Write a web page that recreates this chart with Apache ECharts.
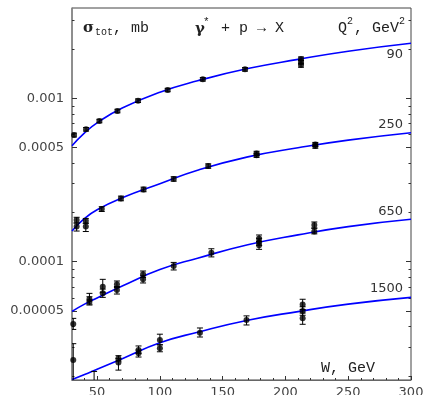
<!DOCTYPE html>
<html>
<head>
<meta charset="utf-8">
<script src="https://cdn.jsdelivr.net/npm/echarts@6/dist/echarts.min.js"></script>
<style>
html, body { margin: 0; padding: 0; background: #fff; }
#main { width: 423px; height: 395px; }
</style>
</head>
<body>
<div id="main"></div>
<script>
// fitted curves at these W values
var curveW  = [30, 40, 50, 70, 100, 130, 170, 210, 250, 300];
var fit90   = [5.13e-4, 6.15e-4, 7.08e-4, 8.72e-4, 1.09e-3, 1.28e-3, 1.52e-3, 1.73e-3, 1.94e-3, 2.17e-3];
var fit250  = [1.54e-4, 1.84e-4, 2.08e-4, 2.46e-4, 3.0e-4, 3.63e-4, 4.38e-4, 4.98e-4, 5.55e-4, 6.16e-4];
var fit650  = [4.97e-5, 5.5e-5, 6.0e-5, 7.1e-5, 8.95e-5, 1.05e-4, 1.27e-4, 1.46e-4, 1.64e-4, 1.817e-4];
var fit1500 = [1.9e-5, 2.04e-5, 2.2e-5, 2.55e-5, 3.19e-5, 3.7e-5, 4.38e-5, 4.95e-5, 5.5e-5, 6.05e-5];

// measured points: [W, sigma, low, high]
var pts90 = [
    [31.6, 5.96e-4, 5.8e-4, 6.12e-4],
    [41.2, 6.46e-4, 6.3e-4, 6.62e-4],
    [51.8, 7.26e-4, 7.08e-4, 7.44e-4],
    [66.2, 8.36e-4, 8.15e-4, 8.57e-4],
    [82.6, 9.67e-4, 9.43e-4, 9.91e-4],
    [106.2, 1.124e-3, 1.097e-3, 1.151e-3],
    [134.2, 1.307e-3, 1.275e-3, 1.339e-3],
    [167.8, 1.504e-3, 1.467e-3, 1.541e-3],
    [212.4, 1.739e-3, 1.70e-3, 1.79e-3],
    [212.4, 1.667e-3, 1.62e-3, 1.71e-3],
    [212.4, 1.60e-3, 1.55e-3, 1.64e-3]
];
var pts250 = [
    [33.7, 1.80e-4, 1.73e-4, 1.87e-4],
    [33.7, 1.64e-4, 1.54e-4, 1.72e-4],
    [41.0, 1.78e-4, 1.72e-4, 1.84e-4],
    [41.0, 1.64e-4, 1.53e-4, 1.72e-4],
    [53.7, 2.10e-4, 2.03e-4, 2.17e-4],
    [69.0, 2.44e-4, 2.36e-4, 2.52e-4],
    [87.0, 2.77e-4, 2.68e-4, 2.86e-4],
    [111, 3.21e-4, 3.11e-4, 3.31e-4],
    [138.5, 3.85e-4, 3.73e-4, 3.97e-4],
    [177, 4.60e-4, 4.46e-4, 4.74e-4],
    [177, 4.48e-4, 4.35e-4, 4.61e-4],
    [223.8, 5.22e-4, 5.07e-4, 5.37e-4],
    [223.8, 5.10e-4, 4.95e-4, 5.25e-4]
];
var pts650 = [
    [43.9, 5.9e-5, 5.5e-5, 6.4e-5],
    [43.9, 5.7e-5, 5.43e-5, 6.1e-5],
    [54.5, 7.03e-5, 6.5e-5, 7.8e-5],
    [54.5, 6.4e-5, 6.05e-5, 6.8e-5],
    [65.8, 7.27e-5, 6.95e-5, 7.62e-5],
    [65.8, 6.72e-5, 6.34e-5, 7.05e-5],
    [86.6, 8.37e-5, 8.0e-5, 8.77e-5],
    [86.6, 7.8e-5, 7.41e-5, 8.2e-5],
    [111, 9.41e-5, 8.9e-5, 9.9e-5],
    [141, 1.135e-4, 1.07e-4, 1.2e-4],
    [179, 1.387e-4, 1.33e-4, 1.457e-4],
    [179, 1.32e-4, 1.26e-4, 1.39e-4],
    [179, 1.26e-4, 1.19e-4, 1.33e-4],
    [223, 1.68e-4, 1.61e-4, 1.75e-4],
    [223, 1.53e-4, 1.48e-4, 1.6e-4]
];
var pts1500 = [
    [31, 4.16e-5, 3.85e-5, 4.5e-5],
    [31, 2.5e-5, 1.8e-5, 3.15e-5],
    [47.6, 1.7e-5, 1.4e-5, 2.13e-5],
    [67, 2.56e-5, 2.47e-5, 2.66e-5],
    [67, 2.42e-5, 2.17e-5, 2.55e-5],
    [83, 2.88e-5, 2.75e-5, 3.05e-5],
    [83, 2.75e-5, 2.61e-5, 2.88e-5],
    [100, 3.32e-5, 3.1e-5, 3.6e-5],
    [100, 2.95e-5, 2.81e-5, 3.1e-5],
    [131.9, 3.67e-5, 3.46e-5, 3.93e-5],
    [169, 4.39e-5, 4.1e-5, 4.66e-5],
    [213.7, 5.48e-5, 5.1e-5, 5.89e-5],
    [213.7, 5.0e-5, 4.7e-5, 5.3e-5],
    [213.7, 4.5e-5, 4.14e-5, 4.85e-5]
];

var q2Labels = ['90', '250', '650', '1500'];

var xTickValues = [50, 100, 150, 200, 250, 300];
var xMinorTicks = [40, 60, 70, 80, 90, 110, 120, 130, 140, 160, 170, 180, 190,
                   210, 220, 230, 240, 260, 270, 280, 290];
var yTickValues = [0.00005, 0.0001, 0.0005, 0.001];
var yTickLabels = ['0.00005', '0.0001', '0.0005', '0.001'];
var yMinorTicks = [2e-5, 3e-5, 4e-5, 6e-5, 7e-5, 8e-5, 9e-5,
                   2e-4, 3e-4, 4e-4, 6e-4, 7e-4, 8e-4, 9e-4, 2e-3, 3e-3];

var yMin = 1.888e-5, yMax = 3.57e-3;
var lgMin = Math.log10(yMin), lgMax = Math.log10(yMax);

var myChart = echarts.init(document.getElementById('main'));

function lg(arr) { return arr.map(function (v) { return Math.log10(v); }); }

function renderErrorBar(params, api) {
    var x = api.value(0);
    var a = api.coord([x, api.value(3)]);
    var b = api.coord([x, api.value(2)]);
    var st = { stroke: '#000', lineWidth: 1 };
    return {
        type: 'group',
        children: [
            { type: 'line', shape: { x1: a[0], y1: a[1], x2: b[0], y2: b[1] }, style: st },
            { type: 'line', shape: { x1: a[0] - 3, y1: a[1], x2: a[0] + 3, y2: a[1] }, style: st },
            { type: 'line', shape: { x1: b[0] - 3, y1: b[1], x2: b[0] + 3, y2: b[1] }, style: st }
        ]
    };
}

// y tick axes drawn in log10 space, same range as the log axis
function tickAxis(pos, values, len, withLabels, withLine) {
    return {
        type: 'value', position: pos, min: lgMin, max: lgMax,
        splitLine: { show: false },
        axisLine: { show: !!withLine, onZero: false, lineStyle: { color: '#888', width: 1.5 } },
        axisTick: { show: true, inside: true, length: len, customValues: lg(values),
                    lineStyle: { color: '#333', width: 1 } },
        axisLabel: withLabels ? {
            show: true, customValues: lg(yTickValues), margin: 8,
            fontFamily: 'DejaVu Sans', fontSize: 13, color: '#444',
            formatter: function (v) {
                for (var i = 0; i < yTickValues.length; i++) {
                    if (Math.abs(Math.log10(yTickValues[i]) - v) < 1e-6) return yTickLabels[i];
                }
                return '';
            }
        } : { show: false }
    };
}

var groups = [
    { pts: pts90, fit: fit90 },
    { pts: pts250, fit: fit250 },
    { pts: pts650, fit: fit650 },
    { pts: pts1500, fit: fit1500 }
];

var series = [];
groups.forEach(function (g) {
    series.push({
        type: 'line', xAxisIndex: 0, yAxisIndex: 0,
        data: curveW.map(function (w, i) { return [w, g.fit[i]]; }),
        smooth: true, showSymbol: false, silent: true, z: 2,
        lineStyle: { color: '#0000ff', width: 1.6 }
    });
    series.push({
        type: 'custom', xAxisIndex: 0, yAxisIndex: 0, clip: true, z: 3,
        renderItem: renderErrorBar,
        encode: { x: 0, y: 1 },
        data: g.pts
    });
    series.push({
        type: 'scatter', xAxisIndex: 0, yAxisIndex: 0, z: 4,
        symbol: 'circle', symbolSize: 6,
        itemStyle: { color: '#000' },
        data: g.pts.map(function (p) { return [p[0], p[1]]; })
    });
});

var monoFont = '15px "Liberation Mono"';
function txt(text, x, y, font, align, fill) {
    return {
        type: 'text', x: x, y: y, silent: true, z: 10,
        style: { text: text, font: font, fill: fill || '#222',
                 align: align || 'left', verticalAlign: 'middle',
                 textAlign: align || 'left', textVerticalAlign: 'middle' }
    };
}

var labelFont = '13px "DejaVu Sans"';

option = {
    animation: false,
    backgroundColor: '#fff',
    grid: {
        left: 72, right: 12, top: 8, bottom: 15,
        show: true, borderColor: '#444', borderWidth: 1,
        containLabel: false, outerBoundsMode: 'none'
    },
    xAxis: [
        {
            type: 'value', min: 30, max: 300,
            splitLine: { show: false },
            axisLine: { show: true, onZero: false, lineStyle: { color: '#666', width: 1 } },
            axisTick: { show: true, inside: true, length: 4, customValues: xTickValues,
                        lineStyle: { color: '#333' } },
            axisLabel: { customValues: xTickValues, margin: 6,
                         fontFamily: 'DejaVu Sans', fontSize: 13, color: '#444' }
        },
        {
            type: 'value', min: 30, max: 300, position: 'bottom',
            splitLine: { show: false },
            axisLine: { show: false, onZero: false },
            axisTick: { show: true, inside: true, length: 2, customValues: xMinorTicks,
                        lineStyle: { color: '#333' } },
            axisLabel: { show: false }
        }
    ],
    yAxis: [
        {
            type: 'log', logBase: 10, min: yMin, max: yMax, position: 'left',
            splitLine: { show: false }, axisLine: { show: false, onZero: false },
            axisTick: { show: false }, axisLabel: { show: false }, minorTick: { show: false }
        },
        tickAxis('left', yTickValues, 5, true, true),
        tickAxis('left', yMinorTicks, 2.5, false, false),
        tickAxis('right', yTickValues, 5, false, false),
        tickAxis('right', yMinorTicks, 2.5, false, false)
    ],
    graphic: [
        txt('σ', 83, 28, 'bold 15px "DejaVu Serif"'),
        txt('tot', 95, 32, '10px "Liberation Mono"'),
        txt(', mb', 113, 28, monoFont),
        txt('γ', 195, 29, 'bold 15px "DejaVu Serif"'),
        txt('*', 203, 22, '11px "Liberation Mono"'),
        txt('+ p → X', 221, 28, monoFont),
        txt('Q', 338, 28, monoFont),
        txt('2', 347, 21, '10px "Liberation Mono"'),
        txt(', GeV', 354, 28, monoFont),
        txt('2', 399, 21, '10px "Liberation Mono"'),
        txt('W, GeV', 321, 368, monoFont),
        txt(q2Labels[0], 403, 55, labelFont, 'right', '#333'),
        txt(q2Labels[1], 403, 125, labelFont, 'right', '#333'),
        txt(q2Labels[2], 403, 212, labelFont, 'right', '#333'),
        txt(q2Labels[3], 403, 289, labelFont, 'right', '#333')
    ],
    series: series
};
myChart.setOption(option);
</script>
</body>
</html>
